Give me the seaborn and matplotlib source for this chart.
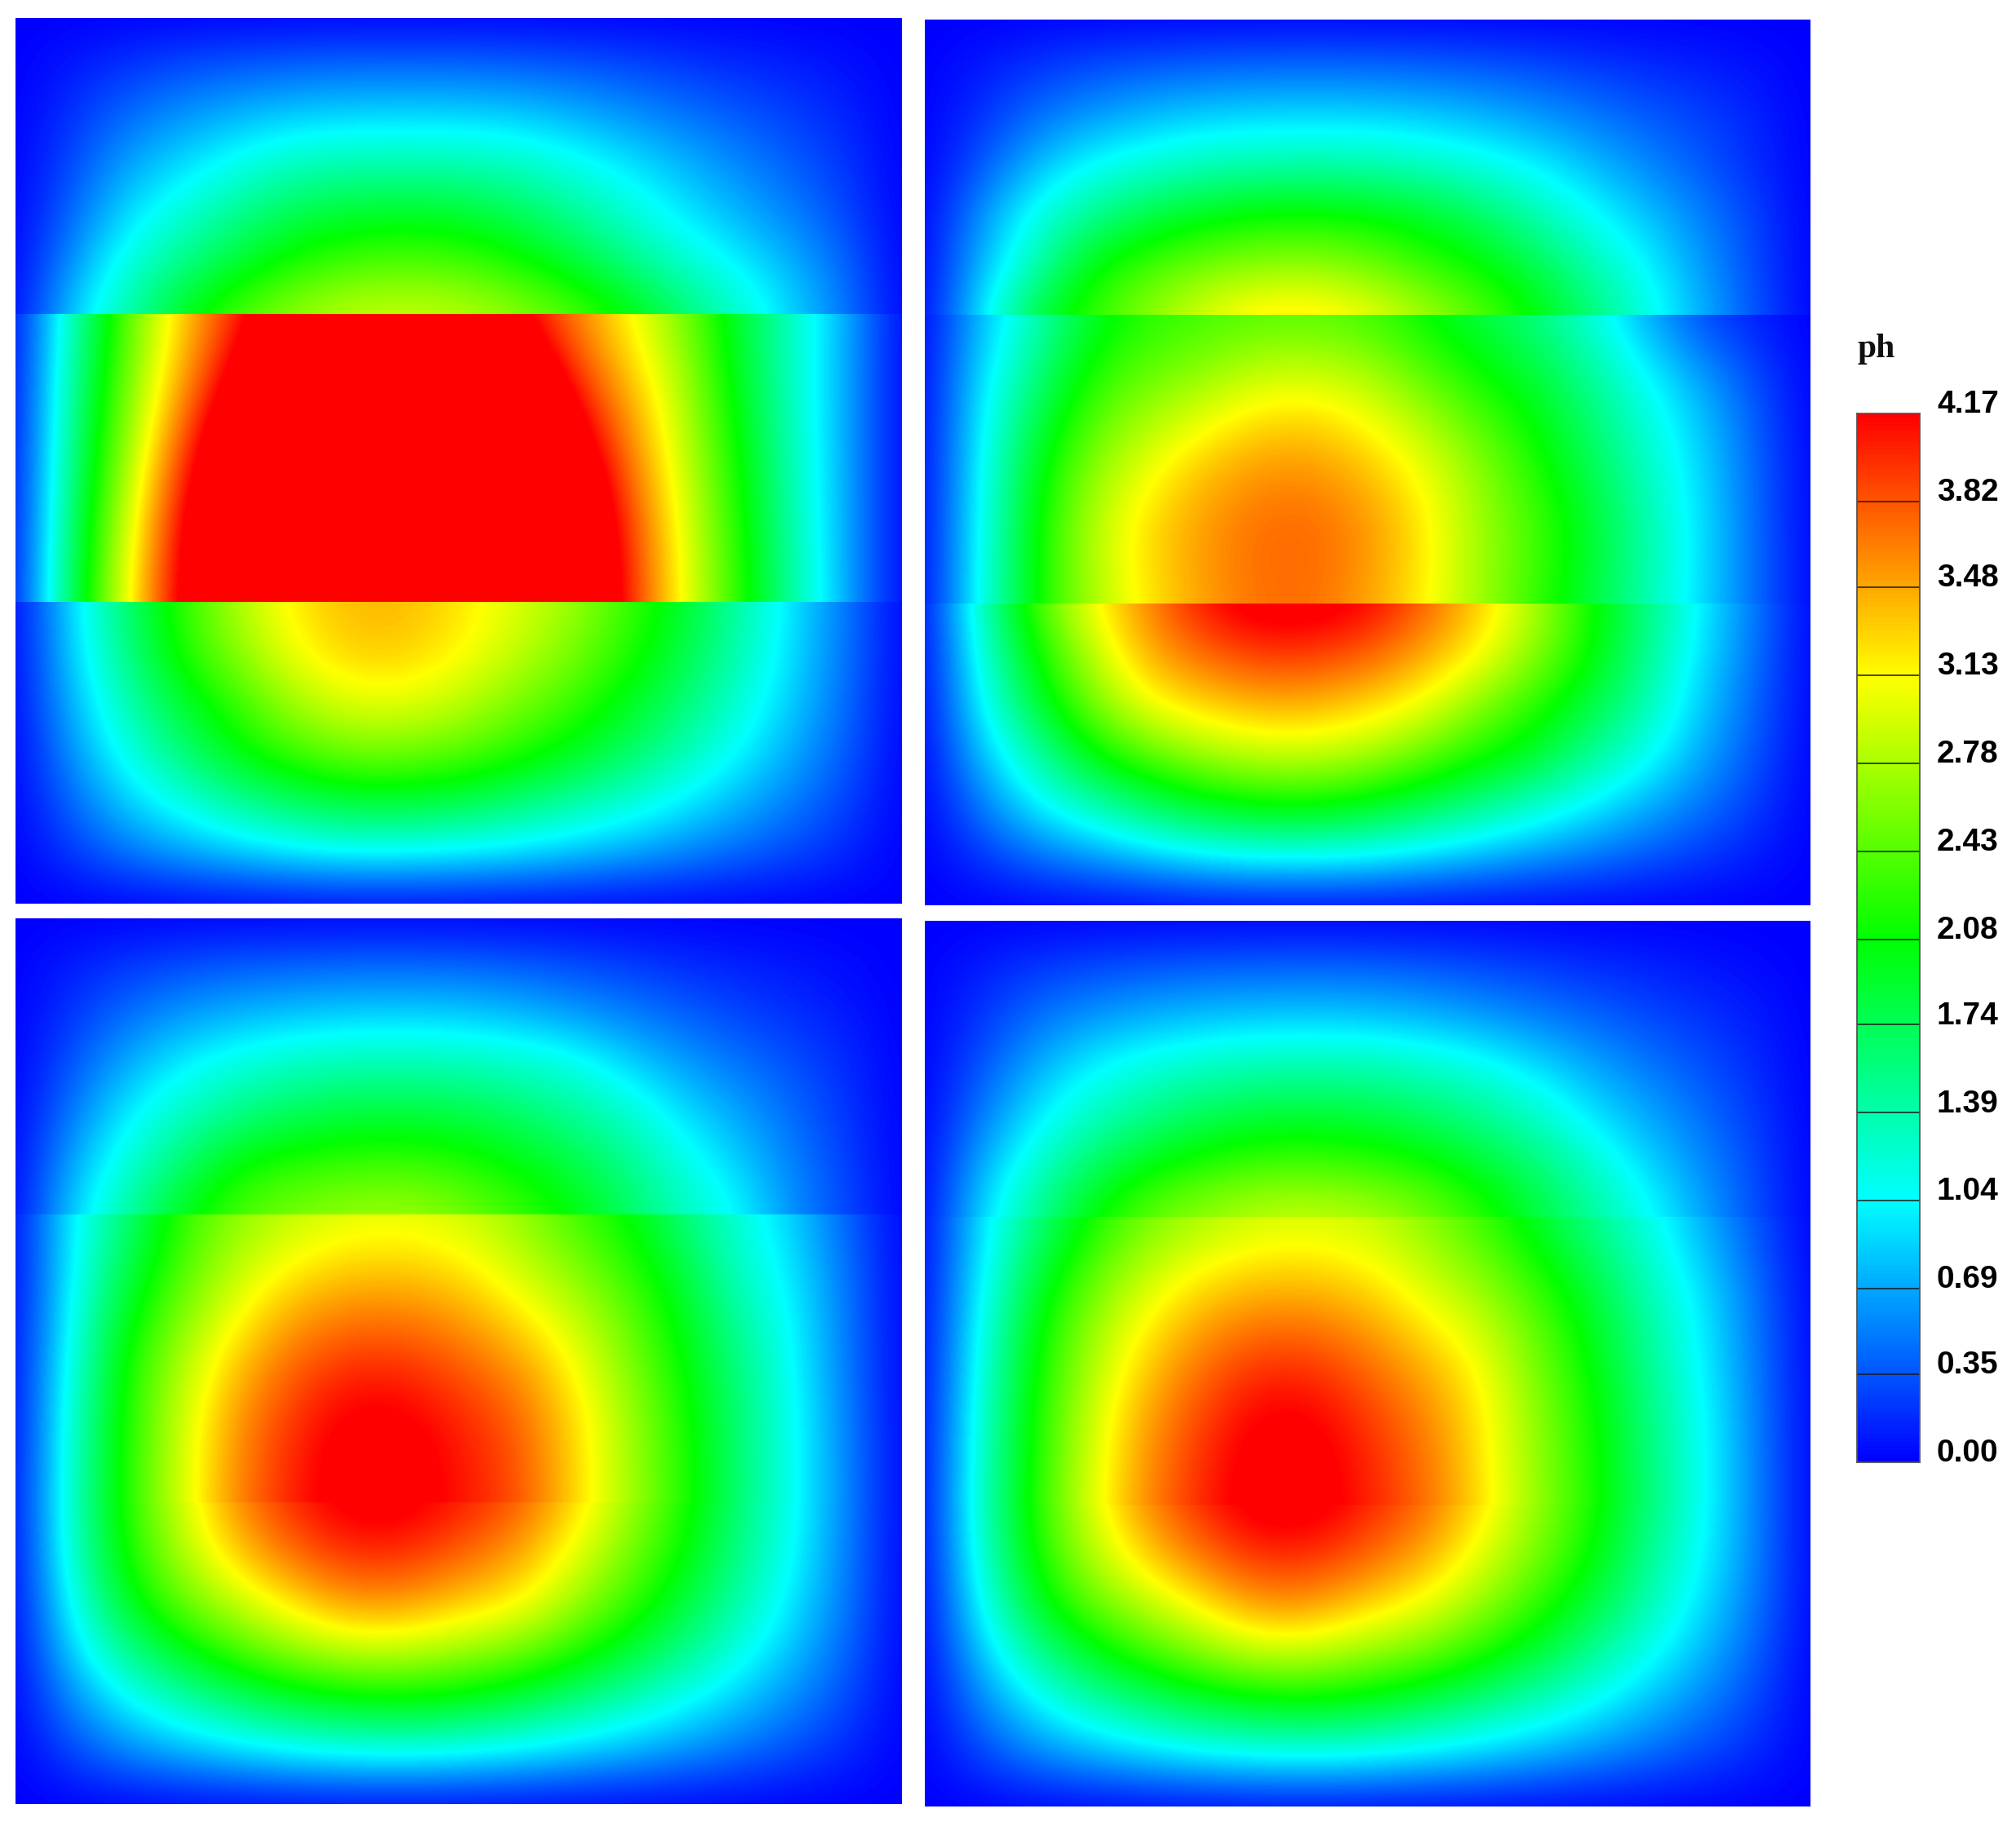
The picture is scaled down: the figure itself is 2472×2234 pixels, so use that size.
import numpy as np
import matplotlib
matplotlib.use("Agg")
import matplotlib.pyplot as plt
from matplotlib.patches import Rectangle
import seaborn as sns

# Values of ph: rows run top to bottom, 17 columns left to right.
P1_TOP = [
 [0]*17,
 [0,.1,.22,.32,.38,.42,.45,.45,.45,.42,.38,.32,.25,.18,.13,.07,0],
 [0,.2,.45,.62,.76,.86,.89,.9,.89,.86,.76,.63,.5,.38,.27,.15,0],
 [0,.3,.68,.92,1.14,1.33,1.40,1.41,1.40,1.32,1.16,.98,.78,.58,.4,.22,0],
 [0,.42,.92,1.22,1.52,1.78,1.92,1.95,1.92,1.77,1.52,1.25,.98,.76,.55,.3,0],
 [0,.6,1.18,1.55,1.9,2.2,2.38,2.44,2.38,2.2,1.93,1.6,1.3,1.02,.75,.42,0],
 [0,.85,1.4,1.97,2.4,2.7,2.88,2.92,2.88,2.7,2.45,2.12,1.7,1.3,.9,.5,0],
]
P1_MID = [
 [0,1.3,2.4,3.3,3.95,4.7,5.2,5.4,5.0,4.2,3.65,3.15,2.6,1.9,1.3,.72,0],
 [0,1.45,2.55,3.5,4.4,5.5,6.2,6.4,6.2,5.2,4.1,3.45,2.85,2.0,1.3,.7,0],
 [0,1.55,2.7,3.9,5.0,6,6.6,6.8,6.6,6,4.7,3.75,2.95,2.15,1.35,.7,0],
 [0,1.65,2.95,4.2,5.2,6.1,6.7,6.9,6.7,6.1,5.2,4.0,3.1,2.25,1.4,.7,0],
 [0,1.75,3.05,4.3,5.2,6.0,6.5,6.6,6.5,6,5.2,4.1,3.13,2.3,1.45,.7,0],
]
P1_BOT = [
 [0,.9,1.65,2.25,2.8,3.2,3.42,3.42,3.25,3.0,2.75,2.35,1.95,1.45,.95,.5,0],
 [0,.85,1.55,2.2,2.65,3.1,3.32,3.33,3.17,2.9,2.6,2.25,1.85,1.4,.92,.48,0],
 [0,.75,1.35,1.9,2.3,2.75,3.02,3.04,2.88,2.6,2.35,2.0,1.65,1.25,.85,.45,0],
 [0,.6,1.15,1.6,2.05,2.35,2.55,2.55,2.45,2.25,2.0,1.72,1.4,1.05,.72,.38,0],
 [0,.42,.85,1.15,1.45,1.68,1.85,1.85,1.78,1.62,1.42,1.23,1.0,.76,.52,.28,0],
 [0,.22,.48,.67,.83,.97,1.05,1.05,1.0,.93,.82,.7,.57,.43,.3,.16,0],
 [0]*17,
]
P2_TOP = [
 [0]*17,
 [0,.1,.22,.32,.38,.42,.45,.45,.45,.42,.38,.32,.25,.18,.13,.07,0],
 [0,.2,.46,.65,.78,.87,.9,.91,.9,.85,.77,.65,.52,.39,.28,.15,0],
 [0,.35,.78,1.08,1.22,1.35,1.4,1.42,1.4,1.32,1.18,1.03,.8,.58,.38,.18,0],
 [0,.6,1.15,1.5,1.8,2.0,2.13,2.15,2.08,1.95,1.72,1.4,1.1,.82,.55,.27,0],
 [0,.75,1.35,2.05,2.35,2.55,2.65,2.68,2.55,2.3,2.1,1.8,1.4,1.05,.65,.3,0],
 [0,.93,1.85,2.28,2.65,3.0,3.25,3.28,3.1,2.8,2.45,2.1,1.65,1.2,.75,.35,0],
]
P2_MID = [
 [0,.75,1.3,1.9,2.2,2.3,2.37,2.37,2.3,2.05,1.8,1.55,1.2,.7,.28,.1,0],
 [0,.95,1.6,2.25,2.55,2.75,3.02,3.07,2.9,2.55,2.2,1.95,1.55,1.15,.75,.35,0],
 [0,1.04,1.95,2.6,3.02,3.35,3.52,3.54,3.35,3.05,2.65,2.2,1.75,1.3,.9,.42,0],
 [0,1.08,2.08,2.85,3.3,3.55,3.75,3.78,3.6,3.25,2.75,2.4,1.95,1.45,.95,.45,0],
 [0,1.1,2.1,2.75,3.2,3.5,3.7,3.72,3.5,3.17,2.75,2.3,1.85,1.4,.92,.45,0],
]
P2_BOT = [
 [0,1.3,2.35,3.1,3.6,4.1,4.35,4.35,4.2,3.8,3.35,2.8,2.15,1.6,1.02,.5,0],
 [0,1.15,2.1,2.85,3.45,3.75,3.95,3.95,3.8,3.5,3.17,2.68,2.12,1.55,.95,.47,0],
 [0,1.02,1.85,2.55,3.1,3.3,3.45,3.45,3.3,3.1,2.65,2.25,1.85,1.4,.85,.42,0],
 [0,.78,1.4,2.05,2.45,2.75,2.9,2.92,2.8,2.5,2.2,1.95,1.52,1.15,.72,.35,0],
 [0,.5,1.0,1.35,1.7,1.95,2.1,2.12,1.98,1.78,1.55,1.28,1.02,.75,.5,.25,0],
 [0,.22,.47,.66,.85,1.03,1.12,1.13,1.08,.95,.8,.65,.52,.38,.25,.12,0],
 [0]*17,
]
P3_TOP = [
 [0]*17,
 [0,.12,.24,.33,.39,.42,.45,.45,.44,.4,.34,.27,.2,.14,.1,.05,0],
 [0,.22,.47,.65,.77,.84,.88,.89,.87,.8,.68,.55,.42,.3,.2,.11,0],
 [0,.35,.72,1.02,1.2,1.32,1.4,1.4,1.38,1.3,1.2,.92,.68,.5,.35,.18,0],
 [0,.5,1.0,1.3,1.55,1.75,1.85,1.87,1.82,1.7,1.5,1.3,.95,.7,.45,.22,0],
 [0,.7,1.2,1.65,2.1,2.25,2.32,2.35,2.25,2.08,1.85,1.55,1.2,.88,.55,.27,0],
 [0,.85,1.45,2.0,2.4,2.6,2.72,2.75,2.62,2.35,2.1,1.75,1.35,1.08,.6,.3,0],
]
P3_MID = [
 [0,1.0,1.55,2.25,2.62,2.82,2.95,2.98,2.9,2.68,2.35,2.05,1.6,1.2,.85,.4,0],
 [0,1.03,1.85,2.45,2.95,3.3,3.45,3.45,3.35,3.05,2.75,2.4,1.95,1.35,1.0,.5,0],
 [0,1.15,2.15,2.8,3.35,3.75,3.95,3.95,3.78,3.55,3.15,2.65,2.1,1.6,1.08,.5,0],
 [0,1.25,2.2,2.95,3.6,4.0,4.3,4.3,4.08,3.85,3.35,2.8,2.25,1.65,1.12,.55,0],
 [0,1.28,2.22,2.95,3.62,4.05,4.33,4.33,4.1,3.88,3.35,2.8,2.25,1.65,1.12,.55,0],
]
P3_BOT = [
 [0,1.28,2.22,2.95,3.6,4.02,4.3,4.3,4.08,3.85,3.35,2.8,2.25,1.65,1.12,.55,0],
 [0,1.25,2.15,2.8,3.35,3.75,4.0,4.0,3.8,3.55,3.1,2.62,2.12,1.58,1.08,.53,0],
 [0,1.08,1.95,2.5,2.9,3.25,3.55,3.55,3.35,3.2,2.78,2.35,1.9,1.43,.97,.5,0],
 [0,.85,1.5,1.95,2.35,2.65,2.85,2.85,2.72,2.55,2.25,1.9,1.55,1.18,.8,.42,0],
 [0,.55,1.0,1.33,1.6,1.82,1.95,2.0,1.93,1.78,1.55,1.32,1.08,.82,.57,.3,0],
 [0,.27,.54,.72,.87,1.0,1.08,1.1,1.06,.97,.86,.73,.6,.45,.31,.16,0],
 [0]*17,
]
P4_TOP = [
 [0]*17,
 [0,.12,.24,.32,.37,.41,.43,.44,.43,.39,.33,.27,.2,.15,.1,.05,0],
 [0,.22,.47,.64,.75,.82,.85,.86,.84,.78,.67,.55,.44,.32,.22,.12,0],
 [0,.35,.72,1.03,1.2,1.32,1.4,1.42,1.4,1.3,1.18,.95,.72,.52,.35,.18,0],
 [0,.5,.98,1.3,1.55,1.75,1.88,1.9,1.85,1.72,1.52,1.32,.98,.72,.48,.24,0],
 [0,.72,1.25,1.7,2.05,2.25,2.38,2.4,2.32,2.2,1.95,1.65,1.32,.92,.6,.3,0],
 [0,.9,1.5,2.08,2.5,2.72,2.88,2.92,2.85,2.62,2.3,1.9,1.5,1.15,.72,.33,0],
]
P4_MID = [
 [0,.9,1.5,2.08,2.5,2.72,2.88,2.92,2.85,2.62,2.3,1.9,1.5,1.15,.72,.33,0],
 [0,1.03,1.9,2.55,3.0,3.3,3.42,3.42,3.3,3.0,2.72,2.35,1.9,1.4,.97,.48,0],
 [0,1.15,2.1,2.8,3.32,3.7,3.95,3.95,3.72,3.45,3.13,2.6,2.08,1.55,1.04,.52,0],
 [0,1.25,2.17,2.95,3.55,3.95,4.28,4.28,4.0,3.7,3.25,2.7,2.2,1.63,1.12,.55,0],
 [0,1.28,2.22,3.0,3.6,4.02,4.33,4.33,4.05,3.75,3.28,2.72,2.22,1.65,1.12,.55,0],
]
P4_BOT = [
 [0,1.28,2.22,3.0,3.6,4.02,4.33,4.33,4.05,3.75,3.28,2.72,2.22,1.65,1.12,.55,0],
 [0,1.22,2.15,2.82,3.33,3.72,4.0,4.0,3.78,3.5,3.05,2.6,2.12,1.55,1.07,.55,0],
 [0,1.05,1.92,2.48,2.85,3.2,3.55,3.55,3.3,3.08,2.72,2.3,1.87,1.4,.95,.5,0],
 [0,.8,1.45,1.92,2.3,2.6,2.85,2.85,2.66,2.5,2.2,1.87,1.5,1.13,.78,.4,0],
 [0,.52,.98,1.32,1.58,1.8,1.93,1.98,1.9,1.73,1.52,1.3,1.06,.79,.54,.28,0],
 [0,.26,.53,.71,.86,.98,1.06,1.09,1.04,.95,.85,.72,.58,.44,.3,.16,0],
 [0]*17,
]
CBAR_LEVELS = [0.00, 0.35, 0.69, 1.04, 1.39, 1.74, 2.08, 2.43, 2.78, 3.13, 3.48, 3.82, 4.17]
CBAR_TITLE = "ph"

W, H = 2472, 2234
VMIN, VMAX = 0.0, 4.17
BAND_EDGES = [0.0, 0.334, 0.659, 1.0]
PANEL_BOXES = [(19, 22, 1105.5, 1108), (1134.3, 23.5, 2220, 1110),
               (19, 1126, 1105.5, 2212), (1134.3, 1129, 2220, 2215)]
PANELS = [(P1_TOP, P1_MID, P1_BOT), (P2_TOP, P2_MID, P2_BOT),
          (P3_TOP, P3_MID, P3_BOT), (P4_TOP, P4_MID, P4_BOT)]

sns.set_theme(style="white")
cmap = sns.blend_palette(["#0000ff", "#00ffff", "#00ff00", "#ffff00", "#ff0000"],
                         n_colors=256, as_cmap=True)
fig = plt.figure(figsize=(W / 100, H / 100), dpi=100, facecolor="white")


def box_axes(l, t, r, b):
    return fig.add_axes([l / W, 1 - b / H, (r - l) / W, (b - t) / H])


for box, bands in zip(PANEL_BOXES, PANELS):
    ax = box_axes(*box)
    for i, band in enumerate(bands):
        arr = np.array(band, dtype=float)
        y0, y1 = BAND_EDGES[i], BAND_EDGES[i + 1]
        dx = 1 / (arr.shape[1] - 1)
        dy = (y1 - y0) / (arr.shape[0] - 1)
        im = ax.imshow(arr, extent=[-dx / 2, 1 + dx / 2, y1 + dy / 2, y0 - dy / 2],
                       origin="upper", aspect="auto", cmap=cmap, vmin=VMIN, vmax=VMAX,
                       interpolation="bicubic", interpolation_stage="data")
        im.set_clip_path(Rectangle((0, y0), 1, y1 - y0, transform=ax.transData))
    ax.set_xlim(0, 1)
    ax.set_ylim(1, 0)
    ax.set_xticks([])
    ax.set_yticks([])
    sns.despine(ax=ax, left=True, bottom=True)

# colour bar
cax = box_axes(2277, 507, 2354, 1793)
n = 512
ramp = np.linspace(VMAX, VMIN, n)[:, None]
sns.heatmap(ramp, ax=cax, cmap=cmap, vmin=VMIN, vmax=VMAX, cbar=False,
            xticklabels=False, yticklabels=False)
for s in cax.spines.values():
    s.set_visible(True)
    s.set_color("#555555")
    s.set_linewidth(1.3)
for lev in CBAR_LEVELS:
    y = (VMAX - lev) / (VMAX - VMIN) * n
    if VMIN < lev < VMAX:
        cax.axhline(y, color="#1a1a1a", lw=1.1)
    cax.annotate(f"{lev:.2f}", xy=(1, y), xycoords=("axes fraction", "data"),
                 xytext=(15.1, 7.8), textcoords="offset points", ha="left", va="center",
                 fontsize=28, fontweight="bold",
                 family="Liberation Sans", color="black", annotation_clip=False)
cax.annotate(CBAR_TITLE, xy=(0, 1), xycoords="axes fraction",
             xytext=(0.5, 57), textcoords="offset points", ha="left", va="center",
             fontsize=30, fontweight="bold", family="Liberation Serif", color="#111111",
             annotation_clip=False)

fig.savefig("out.png", dpi=100, facecolor="white")
